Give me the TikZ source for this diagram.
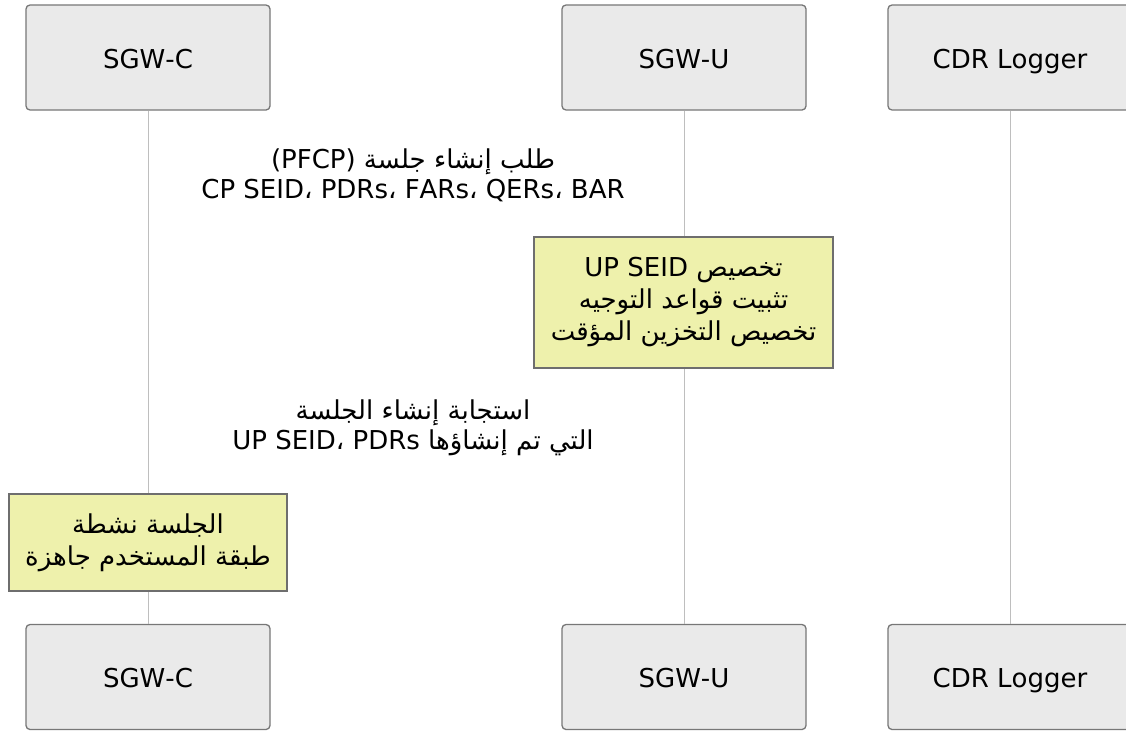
\documentclass[tikz,border=0pt]{standalone}
\usepackage{fontspec}
\setmainfont{DejaVu Sans}
\newfontfamily\arabicfont[Script=Arabic]{DejaVu Sans}
\TeXXeTstate=1
\usetikzlibrary{positioning}

\definecolor{actorfill}{RGB}{234,234,234}
\definecolor{actorline}{RGB}{119,119,119}
\definecolor{notefill}{RGB}{238,241,172}
\definecolor{noteline}{RGB}{110,110,110}
\definecolor{lifecol}{RGB}{190,190,190}

\tikzset{
  actor/.style={draw=actorline,fill=actorfill,line width=1.3pt,rounded corners=4pt,
    minimum width=244pt,minimum height=105pt,inner sep=0pt,text height=25pt,text depth=4pt},
  notebox/.style={draw=noteline,fill=notefill,line width=1.3pt,align=center,inner sep=0pt,
    font=\fontsize{26}{32}\selectfont\arabicfont},
  msg/.style={align=center,inner sep=0pt},
  lifeline/.style={draw=lifecol,line width=1pt}
}

\begin{document}
\begin{tikzpicture}[x=1pt,y=-1pt,font=\fontsize{26}{30}\selectfont\arabicfont]
  \useasboundingbox (0,0) rectangle (1126,731);
  % participants, top
  \node[actor] (sgwc) at (148,57.5) {SGW-C};
  \node[actor] (sgwu) at (684,57.5) {SGW-U};
  \node[actor] (cdr) at (1010,57.5) {CDR Logger};
  % participants, bottom
  \node[actor] (sgwcB) at (148,677) {SGW-C};
  \node[actor] (sgwuB) at (684,677) {SGW-U};
  \node[actor] (cdrB) at (1010,677) {CDR Logger};
  % lifelines
  \draw[lifeline] (sgwc) -- (sgwcB);
  \draw[lifeline] (sgwu) -- (sgwuB);
  \draw[lifeline] (cdr) -- (cdrB);
  % messages
  \node[msg] (req) at (413,175) {\beginR طلب إنشاء جلسة \beginL(PFCP)\endL\endR\\
    \beginR\beginL CP SEID، PDRs، FARs، QERs، BAR\endL\endR};
  \node[msg] (resp) at (413,428) {\beginR استجابة إنشاء الجلسة\endR\\
    \beginR التي تم إنشاؤها \beginL UP SEID، PDRs\endL\endR};
  % notes
  \node[notebox,minimum width=299pt,minimum height=131pt] (noteU) at (683.5,302.5)
    {\beginR تخصيص \beginL UP SEID\endL\endR\\
     \beginR تثبيت قواعد التوجيه\endR\\
     \beginR تخصيص التخزين المؤقت\endR};
  \node[notebox,minimum width=278pt,minimum height=97pt] (noteC) at (148,542.5)
    {\beginR الجلسة نشطة\endR\\
     \beginR طبقة المستخدم جاهزة\endR};
\end{tikzpicture}
\end{document}
